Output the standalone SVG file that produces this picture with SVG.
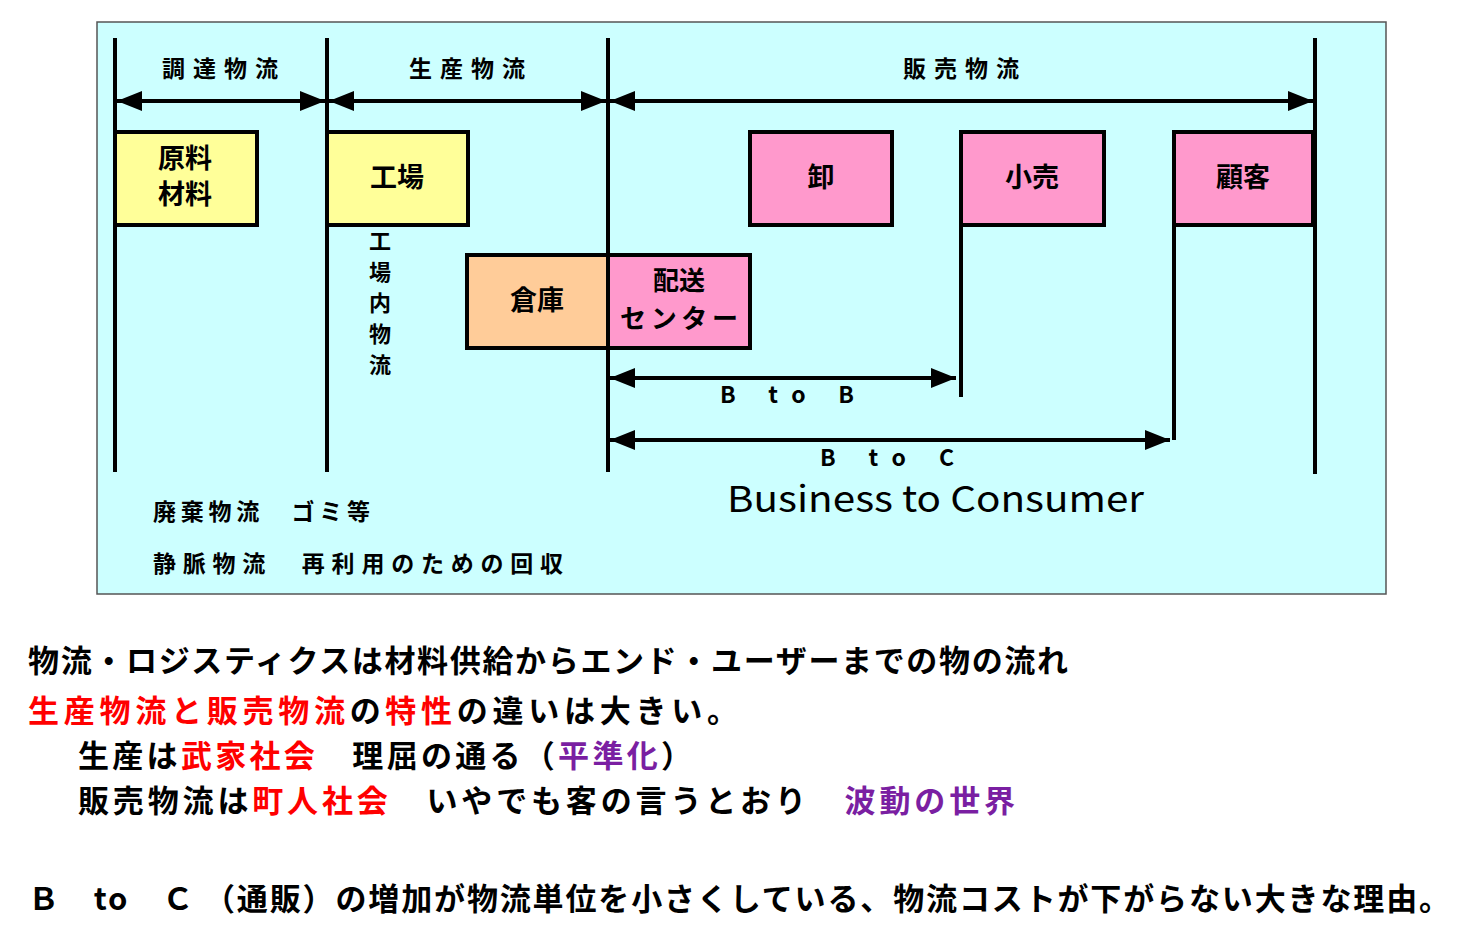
<svg xmlns="http://www.w3.org/2000/svg" width="1472" height="949" viewBox="0 0 1472 949">
<style>
text{font-family:"Noto Sans CJK JP","Liberation Sans",sans-serif;fill:#000}
.l{font-size:23px;font-weight:bold}
.b{font-size:27px;font-weight:bold;text-anchor:middle}
.v{stroke:#000;stroke-width:4;fill:none}
.box{stroke:#000;stroke-width:4}
.t{font-size:31px;font-weight:bold}
.r{fill:#ff0000}.p{fill:#7a1fa2}
</style>
<defs>
<marker id="A" viewBox="0 0 10 8" refX="10" refY="4" markerWidth="30" markerHeight="20" orient="auto-start-reverse" markerUnits="userSpaceOnUse"><path d="M0,0L10,4L0,8z"/></marker></defs>
<rect x="97" y="22" width="1289" height="572" fill="#ccffff" stroke="#555" stroke-width="1.5"/>
<g id="connectors">
<path class="v" d="M115,38V472M327,38V472M608,38V472M1315,38V474M961,225V397M1174,225V440"/>
<path d="M117,101H325" class="v" stroke-width="3" marker-start="url(#A)" marker-end="url(#A)"/>
<path d="M329,101H606" class="v" stroke-width="3" marker-start="url(#A)" marker-end="url(#A)"/>
<path d="M610,101H1313" class="v" stroke-width="3" marker-start="url(#A)" marker-end="url(#A)"/>
<path d="M610,378H956" class="v" stroke-width="3" marker-start="url(#A)" marker-end="url(#A)"/>
<path d="M610,440H1170" class="v" stroke-width="3" marker-start="url(#A)" marker-end="url(#A)"/>
</g>
<text class="l" x="162" y="77" textLength="116">調達物流</text>
<text class="l" x="409" y="77" textLength="116">生産物流</text>
<text class="l" x="903" y="77" textLength="116">販売物流</text>
<g id="n1"><rect class="box" x="115" y="132" width="142" height="93" fill="#ffff99"/><text class="b" x="185" y="168">原料</text><text class="b" x="185" y="204">材料</text></g>
<g id="n2"><rect class="box" x="327" y="132" width="141" height="93" fill="#ffff99"/><text class="b" x="397" y="187">工場</text></g>
<g id="n3"><rect class="box" x="750" y="132" width="142" height="93" fill="#ff99cc"/><text class="b" x="821" y="187">卸</text></g>
<g id="n4"><rect class="box" x="961" y="132" width="143" height="93" fill="#ff99cc"/><text class="b" x="1032" y="187">小売</text></g>
<g id="n5"><rect class="box" x="1174" y="132" width="139" height="93" fill="#ff99cc"/><text class="b" x="1243" y="187">顧客</text></g>
<g id="n6"><rect class="box" x="467" y="255" width="141" height="93" fill="#ffcc99"/><text class="b" x="537" y="310">倉庫</text></g>
<g id="n7"><rect class="box" x="608" y="255" width="142" height="93" fill="#ff99cc"/><text class="b" x="679" y="290" style="font-size:26px">配送</text><text class="b" x="679" y="328" style="font-size:26px" textLength="118">センター</text></g>
<g class="l" text-anchor="middle" style="font-size:22px"><text x="380" y="249">工</text><text x="380" y="280">場</text><text x="380" y="311">内</text><text x="380" y="342">物</text><text x="380" y="373">流</text></g>
<text class="l" x="720" y="403" textLength="134">B  to  B</text>
<text class="l" x="820" y="466" textLength="134">B  to  C</text>
<text x="727" y="512" font-size="36" font-family="Liberation Sans" textLength="417" lengthAdjust="spacingAndGlyphs">Business to Consumer</text>
<text class="l" x="153" y="520" textLength="217">廃棄物流　ゴミ等</text>
<text class="l" x="153" y="572" textLength="410">静脈物流　再利用のための回収</text>
<text class="t" x="28" y="672" textLength="1040">物流・ロジスティクスは材料供給からエンド・ユーザーまでの物の流れ</text>
<text class="t" x="28" y="722" textLength="710"><tspan class="r">生産物流と販売物流</tspan>の<tspan class="r">特性</tspan>の違いは大きい。</text>
<text class="t" x="78" y="767" textLength="614">生産は<tspan class="r">武家社会</tspan>　理屈の通る（<tspan class="p">平準化</tspan>）</text>
<text class="t" x="78" y="812" textLength="937">販売物流は<tspan class="r">町人社会</tspan>　いやでも客の言うとおり　<tspan class="p">波動の世界</tspan></text>
<text class="t" x="28" y="910" textLength="1422">Ｂ　to　Ｃ （通販）の増加が物流単位を小さくしている、物流コストが下がらない大きな理由。</text>
</svg>
